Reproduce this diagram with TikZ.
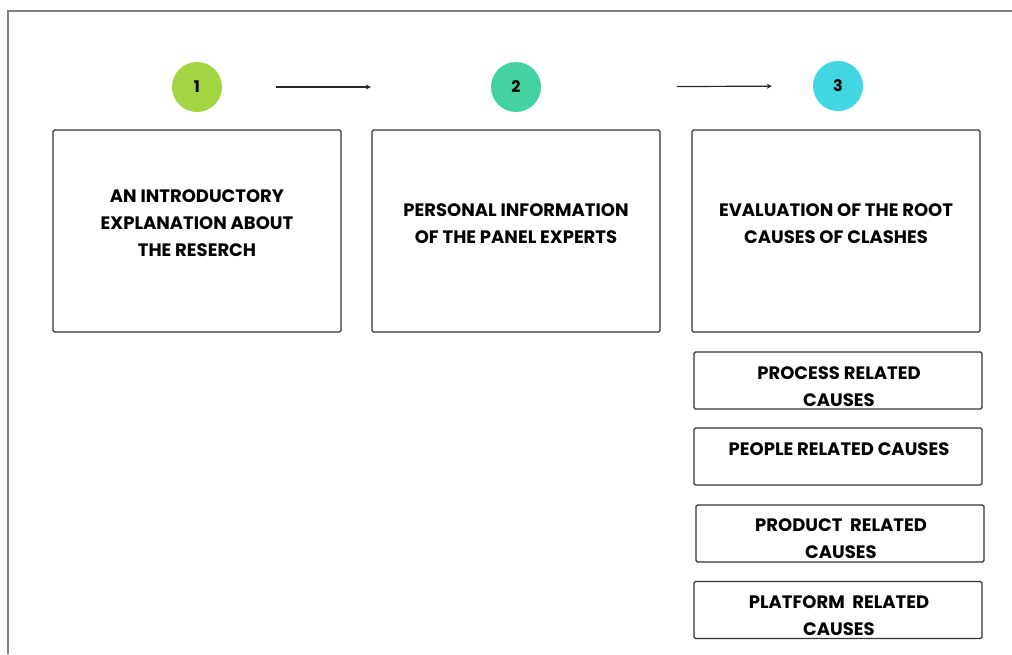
\documentclass[tikz,border=0pt]{standalone}
\usepackage{fontspec}
\setmainfont{Poppins}
\usetikzlibrary{arrows.meta,positioning}

\definecolor{steplime}{HTML}{A3D441}
\definecolor{stepmint}{HTML}{45D2A3}
\definecolor{stepcyan}{HTML}{42D5E2}
\definecolor{framegray}{HTML}{808080}

\begin{document}
\begin{tikzpicture}[x=1pt, y=-1pt, >={Stealth[length=5pt,width=5pt]},
    every node/.style={font=\bfseries\fontsize{18}{27}\selectfont, align=center},
    stepnum/.style={circle, minimum size=50pt, inner sep=0pt, font=\bfseries\fontsize{16}{18}\selectfont},
    bigbox/.style={draw=black!80, rounded corners=1.5pt, line width=1.2pt, minimum width=288pt, minimum height=202pt},
    causebox/.style={draw=black!80, rounded corners=1.5pt, line width=1.2pt, minimum width=288pt, minimum height=57pt},
    flow/.style={->, line width=1.2pt, black!85}]
    \useasboundingbox (0,0) rectangle (1012,654);
    % page frame
    \draw[framegray, line width=1.8pt] (8,654) -- (8,11) -- (1012,11);

    % numbered steps
    \node[stepnum, fill=steplime] (n1) at (197,87) {1};
    \node[stepnum, fill=stepmint] (n2) at (516,87) {2};
    \node[stepnum, fill=stepcyan] (n3) at (838,86) {3};
    \draw[flow, shorten <=54pt, shorten >=120pt] (n1) -- (n2);
    \draw[flow, shorten <=136pt, shorten >=41pt] (n2) -- (n3);

    % main boxes
    \node[bigbox] (intro) at (197,231) {};
    \node[bigbox] (panel) at (516,231) {};
    \node[bigbox] (roots) at (836,231) {};
    \node (introtxt) at (197,223) {AN INTRODUCTORY\\EXPLANATION ABOUT\\THE RESERCH};
    \node (paneltxt) at (516,224) {PERSONAL INFORMATION\\OF THE PANEL EXPERTS};
    \node (rootstxt) at (836,224) {EVALUATION OF THE ROOT\\CAUSES OF CLASHES};

    % root cause groups
    \node[causebox] (process) at (838,380.5) {};
    \node[causebox] (people) at (838,456.5) {};
    \node[causebox] (product) at (840,533.5) {};
    \node[causebox] (platform) at (838,610) {};
    \node (processtxt) at (839,387) {PROCESS RELATED\\CAUSES};
    \node (peopletxt) at (839,449) {PEOPLE RELATED CAUSES};
    \node (producttxt) at (841,539) {PRODUCT\ \ RELATED\\CAUSES};
    \node (platformtxt) at (839,616) {PLATFORM\ \ RELATED\\CAUSES};
\end{tikzpicture}
\end{document}
